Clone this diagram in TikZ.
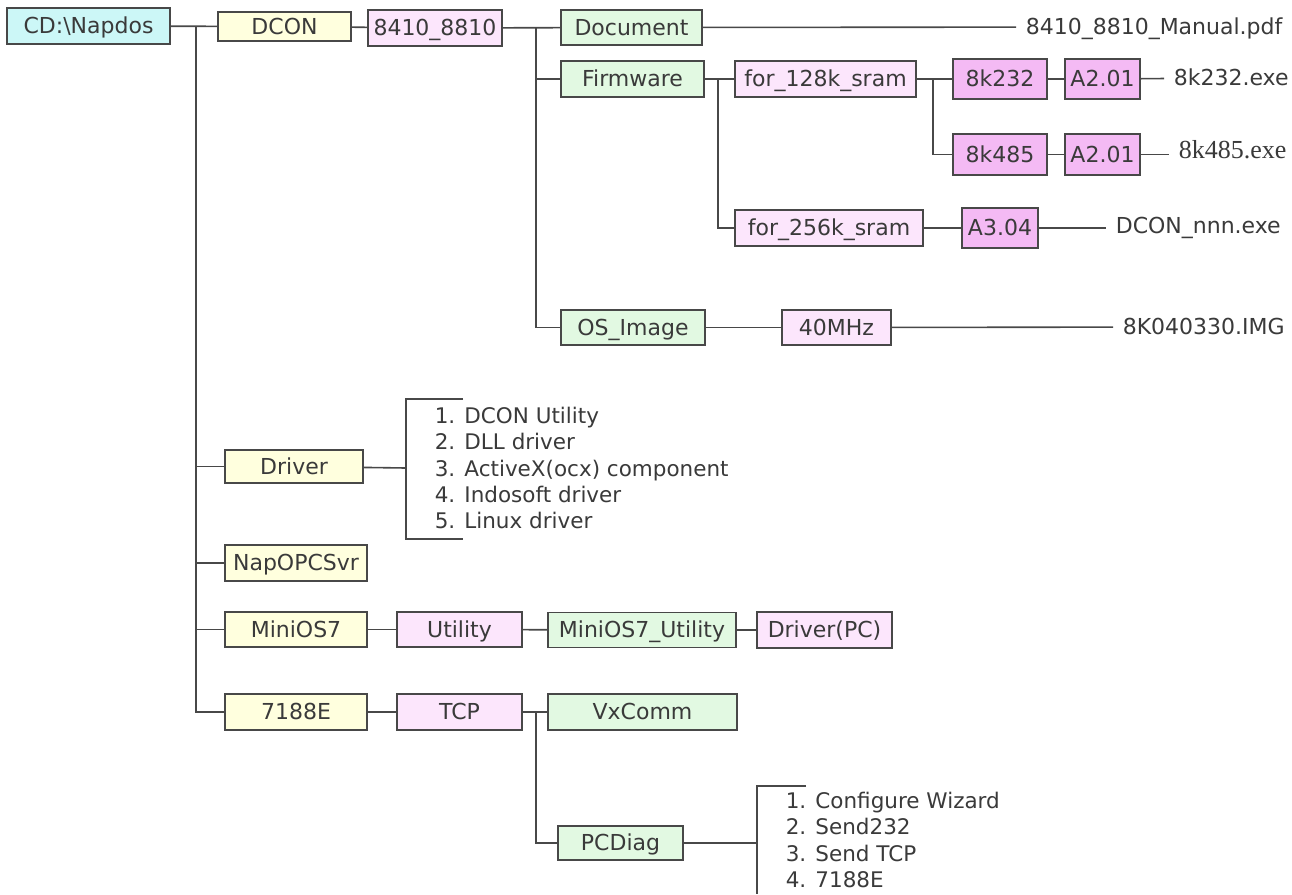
\documentclass[tikz,border=0pt]{standalone}
\usepackage{fontspec}
\setmainfont{DejaVu Sans}
\newfontfamily\exeserif{Liberation Serif}
\definecolor{inkgray}{RGB}{58, 58, 58}
\definecolor{linegray}{RGB}{72, 72, 72}
\definecolor{rootcyan}{RGB}{204, 247, 247}
\definecolor{dircream}{RGB}{255, 255, 222}
\definecolor{dirpink}{RGB}{252, 230, 252}
\definecolor{dirmagenta}{RGB}{244, 186, 244}
\definecolor{dirgreen}{RGB}{226, 249, 226}

\begin{document}
\begin{tikzpicture}[x=1pt, y=-1pt, line width=1.6pt, draw=linegray,
    folder/.style={draw=linegray, text=inkgray, inner sep=0pt, minimum height=35pt,
                   text height=17.8pt, text depth=2pt, font=\fontsize{22}{26}\selectfont},
    filename/.style={text=inkgray, inner xsep=9pt, inner ysep=0pt, anchor=west,
                     text height=17.8pt, text depth=2pt, font=\fontsize{22}{26}\selectfont},
    listing/.style={text=inkgray, inner sep=0pt, anchor=west, align=left,
                    font=\fontsize{21.5}{26.2}\selectfont}]
            % Canvas
            \fill[white]                                                      (0, 0) rectangle (1292, 894);
            \useasboundingbox                                                 (0, 0) rectangle (1292, 894);
            % Root & first level
            \node[folder, fill=rootcyan,   minimum width=163pt, minimum height=36pt] (napdos)   at ( 88.5,  26.0) {CD:\textbackslash Napdos};
            \node[folder, fill=dircream,   minimum width=133pt, minimum height=29pt] (dcon)     at (284.5,  26.5) {DCON};
            \node[folder, fill=dircream,   minimum width=138pt, minimum height=33pt] (driver)   at (294.0, 466.5) {Driver};
            \node[folder, fill=dircream,   minimum width=142pt, minimum height=36pt] (napopc)   at (296.0, 563.0) {NapOPCSvr};
            \node[folder, fill=dircream,   minimum width=142pt]                      (minios)   at (296.0, 629.5) {MiniOS7};
            \node[folder, fill=dircream,   minimum width=142pt, minimum height=36pt] (e7188)    at (296.0, 712.0) {7188E};
            % DCON branch
            \node[folder, fill=dirpink,    minimum width=134pt, minimum height=36pt] (module)   at (435.0,  28.0) {8410\_8810};
            \node[folder, fill=dirgreen,   minimum width=141pt]                      (document) at (631.5,  27.5) {Document};
            \node[folder, fill=dirgreen,   minimum width=143pt, minimum height=36pt] (firmware) at (632.5,  79.0) {Firmware};
            \node[folder, fill=dirgreen,   minimum width=144pt]                      (osimage)  at (633.0, 327.5) {OS\_Image};
            \node[folder, fill=dirpink,    minimum width=181pt, minimum height=36pt] (sramlow)  at (825.5,  79.0) {for\_128k\_sram};
            \node[folder, fill=dirpink,    minimum width=188pt, minimum height=36pt] (sramhigh) at (829.0, 228.0) {for\_256k\_sram};
            \node[folder, fill=dirpink,    minimum width=109pt]                      (mhz)      at (836.5, 327.5) {40MHz};
            \node[folder, fill=dirmagenta, minimum width= 94pt, minimum height=40pt] (ktwo)     at (1000.0,  79.0) {8k232};
            \node[folder, fill=dirmagenta, minimum width= 75pt, minimum height=40pt] (verktwo)  at (1102.5,  79.0) {A2.01};
            \node[folder, fill=dirmagenta, minimum width= 94pt, minimum height=41pt] (kfour)    at (1000.0, 154.5) {8k485};
            \node[folder, fill=dirmagenta, minimum width= 75pt, minimum height=41pt] (verkfour) at (1102.5, 154.5) {A2.01};
            \node[folder, fill=dirmagenta, minimum width= 76pt, minimum height=40pt] (verdcon)  at (1000.0, 228.0) {A3.04};
            % Files
            \node[filename]                                                      (manual)   at (1016,  27) {8410\_8810\_Manual.pdf};
            \node[filename]                                                      (exektwo)  at (1164,  78) {8k232.exe};
            \node[filename, font=\exeserif\fontsize{26}{30}\selectfont]          (exekfour) at (1169, 151) {8k485.exe};
            \node[filename]                                                      (exedcon)  at (1106, 226) {DCON\_nnn.exe};
            \node[filename]                                                      (osfile)   at (1113, 327) {8K040330.IMG};
            % MiniOS7 & 7188E branches
            \node[folder, fill=dirpink,    minimum width=125pt]                      (utility)  at (459.5, 629.5) {Utility};
            \node[folder, fill=dirgreen,   minimum width=188pt]                      (mosutil)  at (642.0, 630.0) {MiniOS7\_Utility};
            \node[folder, fill=dirpink,    minimum width=135pt, minimum height=36pt] (drvpc)    at (824.5, 630.0) {Driver(PC)};
            \node[folder, fill=dirpink,    minimum width=125pt, minimum height=36pt] (tcp)      at (459.5, 712.0) {TCP};
            \node[folder, fill=dirgreen,   minimum width=189pt, minimum height=36pt] (vxcomm)   at (642.5, 712.0) {VxComm};
            \node[folder, fill=dirgreen,   minimum width=125pt, minimum height=34pt] (pcdiag)   at (620.5, 843.0) {PCDiag};
            % Lists
            \node[listing] (drvlist)  at (434, 468) {1. DCON Utility\\2. DLL driver\\3. ActiveX(ocx) component\\4. Indosoft driver\\5. Linux driver};
            \node[listing] (diaglist) at (785, 840) {1. Configure Wizard\\2. Send232\\3. Send TCP\\4. 7188E};
            % Junctions
            \coordinate (trunk)    at (196,  26);
            \coordinate (modjoin)  at (536,  28);
            \coordinate (fwjoin)   at (718,  79);
            \coordinate (sramjoin) at (933,  79);
            \coordinate (tcpjoin)  at (536, 712);
            \coordinate (drvbar)   at (406, 468);
            \coordinate (diagbar)  at (757, 843);
            % Connectors
            \draw[linegray] (napdos) -- (dcon);
            \draw[linegray] (trunk) |- (driver);
            \draw[linegray] (trunk) |- (napopc);
            \draw[linegray] (trunk) |- (minios);
            \draw[linegray] (trunk) |- (e7188);
            \draw[linegray] (dcon) -- (module);
            \draw[linegray] (module) -- (document);
            \draw[linegray] (modjoin) |- (firmware);
            \draw[linegray] (modjoin) |- (osimage);
            \draw[linegray] (document) -- (manual);
            \draw[linegray] (firmware) -- (sramlow);
            \draw[linegray] (fwjoin) |- (sramhigh);
            \draw[linegray] (sramlow) -- (ktwo);
            \draw[linegray] (sramjoin) |- (kfour);
            \draw[linegray] (ktwo) -- (verktwo);
            \draw[linegray] (verktwo) -- (exektwo);
            \draw[linegray] (kfour) -- (verkfour);
            \draw[linegray] (verkfour) -- (exekfour.west |- verkfour);
            \draw[linegray] (sramhigh) -- (verdcon);
            \draw[linegray] (verdcon) -- (exedcon.west |- verdcon);
            \draw[linegray] (osimage) -- (mhz);
            \draw[linegray] (mhz) -- (osfile);
            \draw[linegray] (minios) -- (utility);
            \draw[linegray] (utility) -- (mosutil);
            \draw[linegray] (mosutil) -- (drvpc);
            \draw[linegray] (e7188) -- (tcp);
            \draw[linegray] (tcp) -- (vxcomm);
            \draw[linegray] (tcpjoin) |- (pcdiag);
            % Brackets
            \draw[linegray] (driver) -- (drvbar);
            \draw[linegray] (463, 399) -- (406, 399) -- (406, 539) -- (463, 539);
            \draw[linegray] (pcdiag) -- (diagbar);
            \draw[linegray] (806, 786) -- (757, 786) -- (757, 894);
        \end{tikzpicture}
\end{document}
